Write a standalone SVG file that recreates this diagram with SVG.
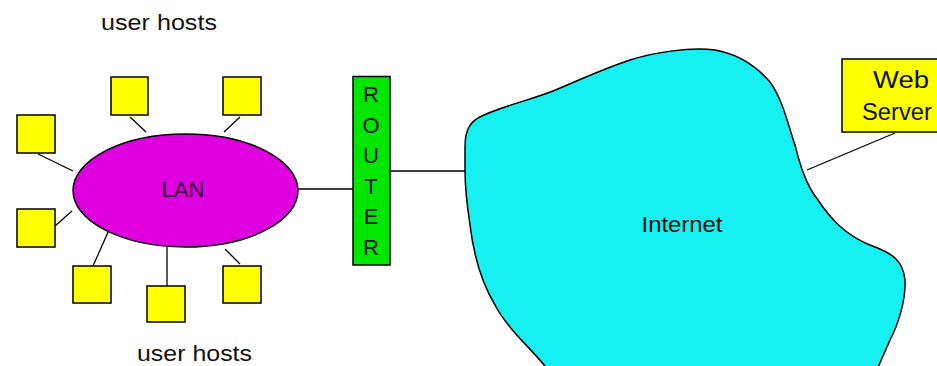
<svg xmlns="http://www.w3.org/2000/svg" width="937" height="366" viewBox="0 0 937 366">
<style>
.host{fill:#ffff00;stroke:#000;stroke-width:1.5}
.wire{stroke:#000;stroke-width:1.3;fill:none}
.lbl{font-family:"Liberation Sans",Arial,sans-serif;fill:#111}
</style>
<rect width="937" height="366" fill="#fff"/>
<g id="connectors">
<line class="wire" x1="38" y1="154" x2="73" y2="171"/>
<line class="wire" x1="130" y1="117" x2="146" y2="132"/>
<line class="wire" x1="240" y1="117" x2="224" y2="132"/>
<line class="wire" x1="55" y1="226" x2="72" y2="211"/>
<line class="wire" x1="93" y1="266" x2="109" y2="230"/>
<line class="wire" x1="167" y1="247" x2="167" y2="286"/>
<line class="wire" x1="225" y1="249" x2="240" y2="264"/>
<line class="wire" x1="298" y1="189" x2="353" y2="189"/>
<line class="wire" x1="390" y1="171" x2="465" y2="171"/>
<line class="wire" x1="807" y1="170" x2="895" y2="133"/>
</g>
<g id="internet">
<path d="M465,147 C465,130 470,121 482,116 C500,107 530,100 553,91 C575,82 600,70 630,60 C655,52 690,47 715,50 C738,54 757,67 770,82 C783,100 788,125 795,145 C800,165 806,185 818,200 C830,218 845,235 870,245 C892,253 903,260 905,280 C906,300 898,325 890,340 C885,352 880,362 877,370 L548,370 C535,352 508,330 495,305 C480,280 473,250 470,225 C467,205 465,185 465,170 Z" fill="#17f0f0" stroke="#000" stroke-width="1.5"/>
<text class="lbl" x="682" y="232" font-size="22" text-anchor="middle" textLength="81" lengthAdjust="spacingAndGlyphs">Internet</text>
</g>
<g id="lan">
<ellipse cx="185.5" cy="190.5" rx="112.5" ry="56.5" fill="#df00df" stroke="#000" stroke-width="1.5"/>
<text x="183" y="197" font-size="22" text-anchor="middle" font-family="Liberation Sans, Arial, sans-serif" fill="#3a003a" textLength="43" lengthAdjust="spacingAndGlyphs">LAN</text>
</g>
<g id="router">
<rect x="353" y="76.5" width="37" height="188.5" fill="#00e600" stroke="#000" stroke-width="1.5"/>
<g class="lbl" font-size="22" text-anchor="middle">
<text x="371" y="102">R</text>
<text x="371" y="132.5">O</text>
<text x="371" y="163">U</text>
<text x="371" y="193.5">T</text>
<text x="371" y="224">E</text>
<text x="371" y="254.5">R</text>
</g>
</g>
<g id="host1"><rect class="host" x="17" y="115" width="38" height="38"/></g>
<g id="host2"><rect class="host" x="111" y="77" width="37" height="38"/></g>
<g id="host3"><rect class="host" x="223" y="77" width="38" height="38"/></g>
<g id="host4"><rect class="host" x="17" y="209" width="38" height="38"/></g>
<g id="host5"><rect class="host" x="73" y="266" width="38" height="37"/></g>
<g id="host6"><rect class="host" x="147" y="286" width="38" height="36"/></g>
<g id="host7"><rect class="host" x="223" y="266" width="38" height="37"/></g>
<g id="webserver">
<rect class="host" x="842" y="59" width="100" height="73"/>
<text class="lbl" x="873" y="88" font-size="23" textLength="56" lengthAdjust="spacingAndGlyphs">Web</text>
<text class="lbl" x="862" y="120" font-size="23" textLength="70" lengthAdjust="spacingAndGlyphs">Server</text>
</g>
<g id="labels">
<text class="lbl" x="101" y="30" font-size="22" textLength="116" lengthAdjust="spacingAndGlyphs">user hosts</text>
<text class="lbl" x="137" y="361" font-size="22" textLength="115" lengthAdjust="spacingAndGlyphs">user hosts</text>
</g>
</svg>
